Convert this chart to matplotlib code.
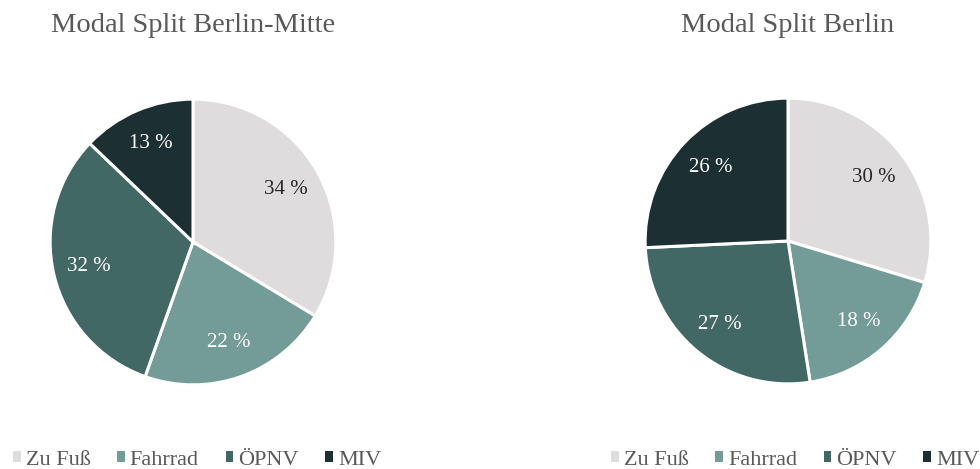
import matplotlib.pyplot as plt
from matplotlib.patches import Patch

kategorien = ["Zu Fuß", "Fahrrad", "ÖPNV", "MIV"]
werte_mitte = [34, 22, 32, 13]
werte_berlin = [30, 18, 27, 26]
titel = ["Modal Split Berlin-Mitte", "Modal Split Berlin"]

farben = ["#dedcdd", "#739c98", "#426866", "#1c3033"]
textfarben = ["#262626", "white", "white", "white"]
grau = "#595959"

plt.rcParams["font.family"] = ["Liberation Serif", "DejaVu Serif"]

fig = plt.figure(figsize=(9.8, 4.69), dpi=100)

# Achsen so legen, dass die Kreise wie im Original sitzen (Radius ~143 px)
positionen = [(193, 242), (788, 241)]
legende_links = [13, 611]
groesse = 300

for (cx, cy), werte, t, lx in zip(positionen, [werte_mitte, werte_berlin], titel, legende_links):
    ax = fig.add_axes([(cx - groesse / 2) / 980, 1 - (cy + groesse / 2) / 469,
                       groesse / 980, groesse / 469])
    labels = [f"{v} %" for v in werte]
    wedges, texts = ax.pie(werte, colors=farben, startangle=90, counterclock=False,
                           labels=labels, labeldistance=0.75,
                           wedgeprops=dict(edgecolor="white", linewidth=2.2))
    for txt, c in zip(texts, textfarben):
        txt.set_ha("center")
        txt.set_va("center")
        txt.set_color(c)
        txt.set_fontsize(15)
    ax.set_xlim(-1.05, 1.05)
    ax.set_ylim(-1.05, 1.05)
    ax.set_aspect("equal")
    ax.axis("off")

    fig.text(cx / 980, 1 - 26 / 469, t, ha="center", va="center",
             fontsize=20.5, color=grau)

    handles = [Patch(facecolor=f, edgecolor="none") for f in farben]
    fig.legend(handles, kategorien, loc="center left", ncol=4, frameon=False,
               bbox_to_anchor=(lx / 980, 1 - 460 / 469), borderpad=0,
               borderaxespad=0,
               handlelength=0.35, handleheight=0.35, handletextpad=0.22,
               columnspacing=1.2, fontsize=16, labelcolor=grau)

fig.savefig("out.png", dpi=100)
